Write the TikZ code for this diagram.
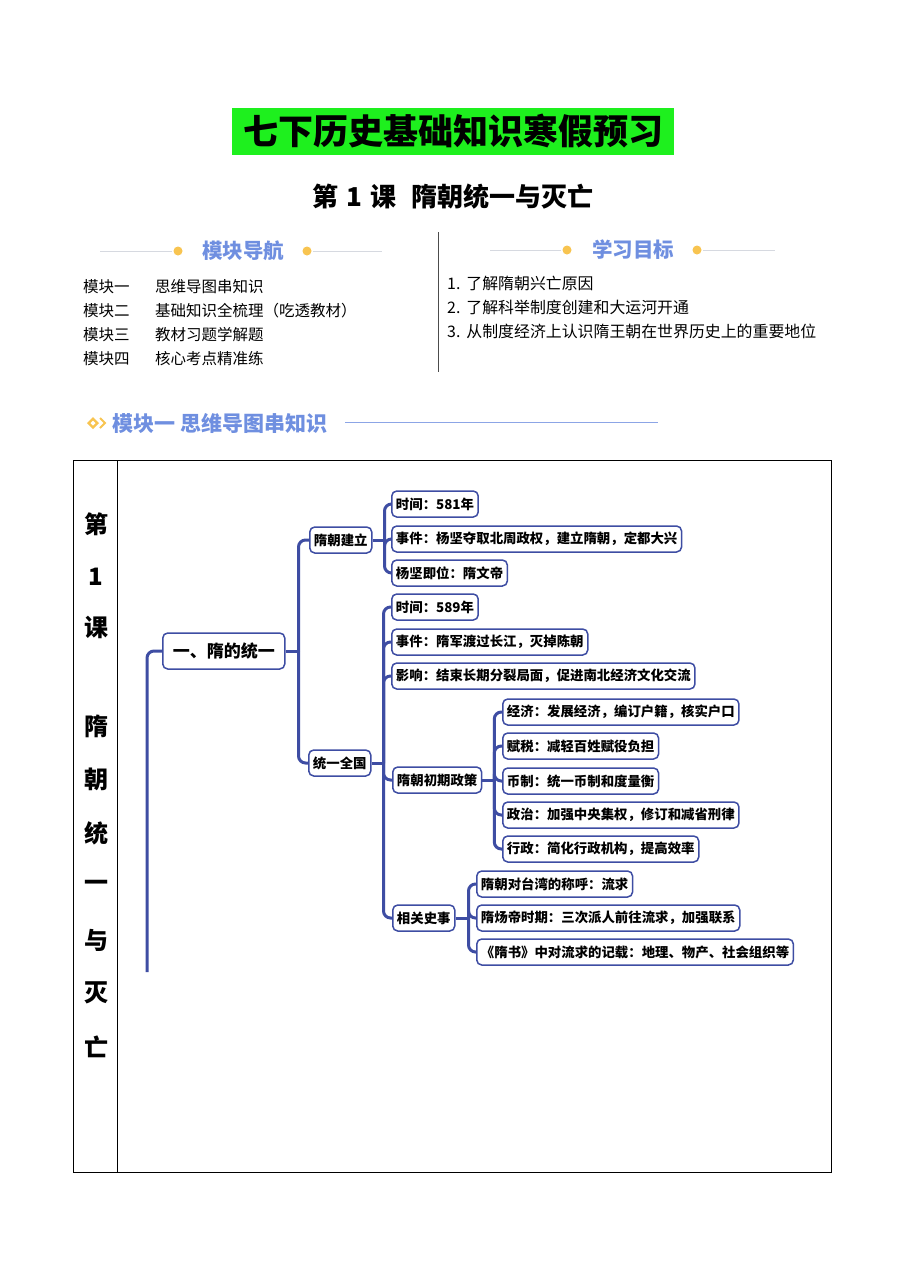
\documentclass[tikz,border=0pt]{standalone}
\usepackage{fontspec}
\setmainfont{Noto Sans CJK SC}
\usetikzlibrary{calc}
\definecolor{mblue}{HTML}{3E4DA3}
\definecolor{hblue}{HTML}{6F8FE0}
\definecolor{dotor}{HTML}{F8C450}
\definecolor{tgreen}{HTML}{1EF01E}
\definecolor{hline}{HTML}{D6D9E0}
\begin{document}
\begin{tikzpicture}[x=1pt,y=-1pt,
  box/.style={draw=mblue, line width=1.5pt, rounded corners=5pt, fill=white,
    inner xsep=4.2pt, inner ysep=0pt, minimum height=26pt, anchor=west,
    font=\fontsize{13.4}{15}\selectfont\bfseries},
  conn/.style={draw=mblue, line width=3pt, rounded corners=7pt},
  modtxt/.style={anchor=west, inner sep=0pt, font=\fontsize{15.5}{17}\selectfont},
  goaltxt/.style={anchor=west, inner sep=0pt, font=\fontsize{15.9}{17}\selectfont},
  headtxt/.style={inner sep=0pt, text=hblue, font=\fontsize{20.5}{22}\selectfont\bfseries},
  sidechar/.style={inner sep=0pt, font=\fontsize{24}{26}\selectfont\bfseries},
  hdot/.style={fill=dotor, draw=none},
  hrule/.style={draw=hline, line width=0.8pt}]
\useasboundingbox (0,0) rectangle (905,1280);
\fill[white] (0,0) rectangle (905,1280);

% title
\node[fill=tgreen, minimum width=442pt, minimum height=47pt, inner sep=0pt,
  font=\fontsize{35}{38}\selectfont\bfseries] (title) at (453,131) {七下历史基础知识寒假预习};
\node[inner sep=0pt, font=\fontsize{26}{28}\selectfont\bfseries] (subtitle) at (453,197) {第\hspace{8pt}1\hspace{8pt}课\hspace{15pt}隋朝统一与灭亡};

% header left
\draw[hrule] (100,251) -- (172,251);
\fill[hdot] (178,251) circle (4.5pt);
\node[headtxt] (navhead) at (243,251) {模块导航};
\fill[hdot] (307,251) circle (4.5pt);
\draw[hrule] (313,251) -- (382,251);
% header right
\draw[hrule] (490,250) -- (561,250);
\fill[hdot] (567,250) circle (4.5pt);
\node[headtxt] (goalhead) at (633,250) {学习目标};
\fill[hdot] (697,250) circle (4.5pt);
\draw[hrule] (703,250) -- (775,250);
% divider
\draw[draw=black!70, line width=0.8pt] (438,232) -- (438,372);

% module list
\node[modtxt] (m1a) at (83,287) {模块一};
\node[modtxt] (m1b) at (155,287) {思维导图串知识};
\node[modtxt] (m2a) at (83,311) {模块二};
\node[modtxt] (m2b) at (155,311) {基础知识全梳理（吃透教材）};
\node[modtxt] (m3a) at (83,335) {模块三};
\node[modtxt] (m3b) at (155,335) {教材习题学解题};
\node[modtxt] (m4a) at (83,359) {模块四};
\node[modtxt] (m4b) at (155,359) {核心考点精准练};

% goals
\node[goaltxt] (g1) at (447,283) {1.\hspace{6pt}了解隋朝兴亡原因};
\node[goaltxt] (g2) at (447,307) {2.\hspace{6pt}了解科举制度创建和大运河开通};
\node[goaltxt] (g3) at (447,331) {3.\hspace{6pt}从制度经济上认识隋王朝在世界历史上的重要地位};

% section header
\fill[dotor] (87,423) -- (93,417) -- (99,423) -- (93,429) -- cycle;
\fill[white] (90.5,423) -- (93,420.5) -- (95.5,423) -- (93,425.5) -- cycle;
\draw[dotor, line width=2pt] (100,418) -- (105,423) -- (100,428);
\node[anchor=west, inner sep=0pt, text=hblue, font=\fontsize{21}{23}\selectfont\bfseries] (sechead) at (112,423) {模块一 思维导图串知识};
\draw[draw=hblue!80, line width=0.8pt] (345,422) -- (658,422);

% table
\draw[line width=0.8pt] (73,460) rectangle (831,1172);
\draw[line width=0.8pt] (117,460) -- (117,1172);
\node[sidechar] (s1) at (96,524) {第};
\node[sidechar] (s2) at (96,577) {1};
\node[sidechar] (s3) at (96,627) {课};
\node[sidechar] (s4) at (96,726) {隋};
\node[sidechar] (s5) at (96,779) {朝};
\node[sidechar] (s6) at (96,833) {统};
\node[sidechar] (s7) at (96,886) {一};
\node[sidechar] (s8) at (96,940) {与};
\node[sidechar] (s9) at (96,993) {灭};
\node[sidechar] (s10) at (96,1047) {亡};

% mind map nodes
\node[box, minimum height=36pt, inner xsep=10pt, font=\fontsize{17}{19}\selectfont\bfseries] (root) at (162,651) {一、隋的统一};
\node[box] (jl) at (309,540) {隋朝建立};
\node[box] (ty) at (308,763) {统一全国};

\node[box] (a1) at (391,504) {时间：581年};
\node[box] (a2) at (391,539) {事件：杨坚夺取北周政权，建立隋朝，定都大兴};
\node[box] (a3) at (391,573) {杨坚即位：隋文帝};

\node[box] (b1) at (391,607) {时间：589年};
\node[box] (b2) at (391,642) {事件：隋军渡过长江，灭掉陈朝};
\node[box] (b3) at (391,676) {影响：结束长期分裂局面，促进南北经济文化交流};
\node[box] (b4) at (392,780) {隋朝初期政策};
\node[box] (b5) at (392,918) {相关史事};

\node[box] (c1) at (502,712) {经济：发展经济，编订户籍，核实户口};
\node[box] (c2) at (502,746) {赋税：减轻百姓赋役负担};
\node[box] (c3) at (502,781) {币制：统一币制和度量衡};
\node[box] (c4) at (502,815) {政治：加强中央集权，修订和减省刑律};
\node[box] (c5) at (502,849) {行政：简化行政机构，提高效率};

\node[box] (d1) at (476,884) {隋朝对台湾的称呼：流求};
\node[box] (d2) at (476,918) {隋炀帝时期：三次派人前往流求，加强联系};
\node[box] (d3) at (476,952) {《隋书》中对流求的记载：地理、物产、社会组织等};

% connectors
\coordinate (rootfoot) at (147,972);
\draw[conn] (rootfoot) |- (root.west);

\draw[conn] (root.east) -- ++(13,0) coordinate (rj);
\draw[conn] (rj) |- (jl.west);
\draw[conn] (rj) |- (ty.west);

\draw[conn] (jl.east) -- ++(12,0) coordinate (jj);
\foreach \c in {a1,a2,a3} \draw[conn] (jj) |- (\c.west);

\draw[conn] (ty.east) -- ++(12,0) coordinate (tj);
\foreach \c in {b1,b2,b3,b4,b5} \draw[conn] (tj) |- (\c.west);

\draw[conn] (b4.east) -- ++(12,0) coordinate (pj);
\foreach \c in {c1,c2,c3,c4,c5} \draw[conn] (pj) |- (\c.west);

\draw[conn] (b5.east) -- ++(13,0) coordinate (hj);
\foreach \c in {d1,d2,d3} \draw[conn] (hj) |- (\c.west);
\end{tikzpicture}
\end{document}
